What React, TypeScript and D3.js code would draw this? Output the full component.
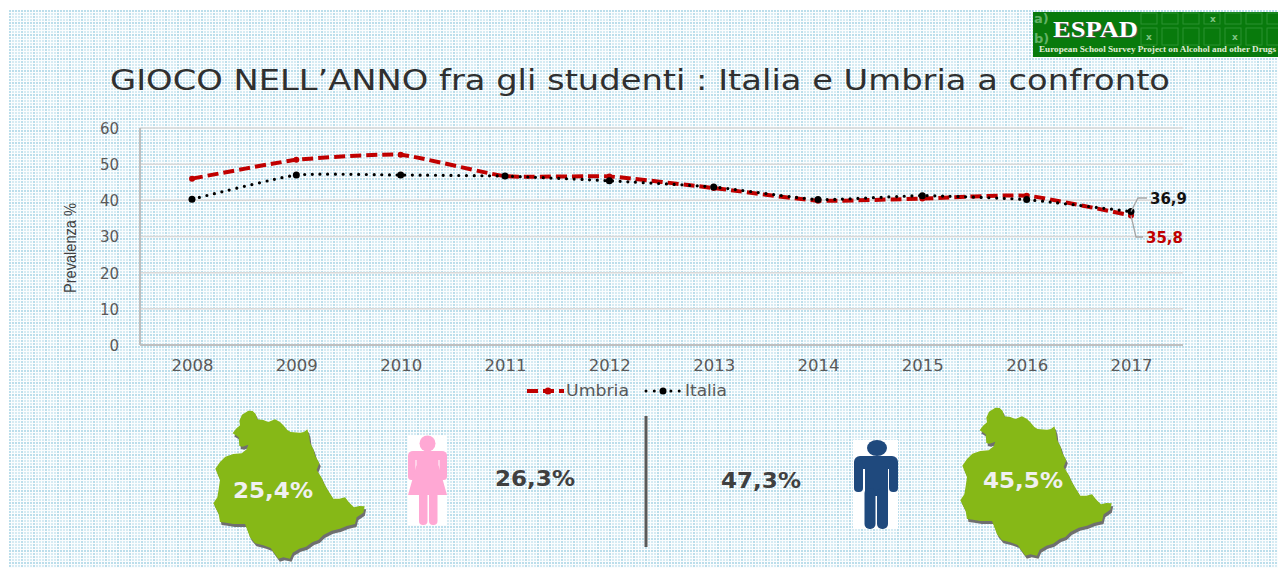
import React, { useEffect, useRef } from "react";
import * as d3 from "d3";

const years = ["2008", "2009", "2010", "2011", "2012", "2013", "2014", "2015", "2016", "2017"];
const umbria = [46, 51.2, 52.6, 46.7, 46.6, 43.4, 39.9, 40.5, 41.3, 35.8];
const italia = [40.3, 47, 47, 46.7, 45.4, 43.7, 40.2, 41.3, 40.2, 36.9];
const yTicks = [0, 10, 20, 30, 40, 50, 60];
const RED = "#c00000";
const regionOutline: [number, number][] = [
  [145,32],[158,33],[167,42],[172,58],[190,60],[205,66],[225,58],[240,66],[250,76],[262,90],[272,96],[300,98],[312,96],[322,88],[327,105],[330,128],[340,148],[346,168],[358,190],[350,210],[364,232],[372,250],[382,268],[400,296],[418,296],[435,292],[448,308],[462,322],[478,318],[494,319],[490,338],[470,352],[465,372],[440,378],[420,386],[395,392],[370,405],[355,420],[338,426],[318,440],[298,446],[278,458],[270,476],[250,472],[235,476],[222,458],[212,444],[190,436],[165,430],[150,412],[145,398],[135,372],[100,372],[78,368],[60,366],[56,342],[40,310],[52,292],[56,268],[60,240],[46,206],[60,186],[76,170],[100,162],[125,160],[140,148],[145,134],[128,140],[118,138],[116,112],[98,100],[108,86],[120,76],[118,62],[126,44]
];
const logoCols = d3.range(9);
const logoMarks: [number, number][] = [[1213, 22], [1149, 40], [1235, 40]];

function Woman({ x, y }: { x: number; y: number }) {
  const c = "#ffa8d4";
  return (
    <g transform={`translate(${x},${y})`} fill={c}>
      <rect width={39} height={90} fill="#fff" />
      <circle cx={19.5} cy={8.5} r={8} />
      <rect x={0} y={16} width={39} height={9} rx={5} />
      <rect x={0} y={18} width={7.5} height={27} rx={3.5} />
      <rect x={31.5} y={18} width={7.5} height={27} rx={3.5} />
      <path d="M8.5 18 H30.5 V30 L39 60 H0 L8.5 30 Z" />
      <rect x={11} y={56} width={8.5} height={34} rx={4} />
      <rect x={21} y={56} width={8.5} height={34} rx={4} />
    </g>
  );
}

function Man({ x, y }: { x: number; y: number }) {
  const c = "#1f497d";
  return (
    <g transform={`translate(${x},${y})`} fill={c}>
      <rect width={45} height={89} fill="#fff" />
      <ellipse cx={24} cy={8} rx={10} ry={8} />
      <rect x={1} y={16} width={44} height={13} rx={6} />
      <rect x={1} y={20} width={9} height={32} rx={4} />
      <rect x={36} y={20} width={9} height={32} rx={4} />
      <rect x={12} y={16} width={23} height={40} />
      <rect x={11.5} y={48} width={11} height={41} rx={5} />
      <rect x={24} y={48} width={11} height={41} rx={5} />
    </g>
  );
}

function Region({ dx, dy, label, labelX, labelY }: { dx: number; dy: number; label: string; labelX: number; labelY: number }) {
  const sx = d3.scaleLinear().domain([0, 780]).range([dx, dx + 260]);
  const sy = d3.scaleLinear().domain([0, 504]).range([dy, dy + 168]);
  const line = d3.line<[number, number]>().x((d) => sx(d[0])).y((d) => sy(d[1])).curve(d3.curveLinearClosed);
  const p = line(regionOutline) || "";
  return (
    <g>
      <path d={p} fill="#6f6f6f" transform="translate(1.5,3)" />
      <path d={p} fill="#86b817" />
      <text x={labelX} y={labelY} textAnchor="middle" fontFamily="DejaVu Sans" fontWeight="bold" fontSize={22} fill="#f0f0f0" textLength={80} lengthAdjust="spacingAndGlyphs">{label}</text>
    </g>
  );
}

export default function App() {
  const axisRef = useRef<SVGGElement>(null);
  const x = d3.scalePoint<string>().domain(years).range([192, 1131]);
  const y = d3.scaleLinear().domain([0, 60]).range([345, 128]);
  const line = d3.line<number>().x((_, i) => x(years[i]) as number).y((d) => y(d)).curve(d3.curveCardinal.tension(0.55));

  useEffect(() => {
    const g = d3.select(axisRef.current);
    g.selectAll("*").remove();
    const ax = d3.axisBottom(x).tickSize(0).tickPadding(0);
    const gx = g.append("g").attr("transform", "translate(0,371)").call(ax);
    gx.select(".domain").remove();
    gx.selectAll("text").attr("dy", 0).attr("y", 0).attr("fill", "#595959").attr("font-size", 15).attr("font-family", "DejaVu Sans").attr("textLength", 42).attr("lengthAdjust", "spacingAndGlyphs");
    const ay = d3.axisLeft(y).tickValues(yTicks).tickSize(0).tickPadding(0);
    const gy = g.append("g").attr("transform", "translate(119,0)").call(ay);
    gy.select(".domain").remove();
    gy.selectAll("text").attr("fill", "#595959").attr("font-size", 15).attr("font-family", "DejaVu Sans").attr("dy", "0.36em");
  }, []);

  const last = years[years.length - 1];
  const lx = x(last) as number;

  return (
    <svg width={1278} height={568} style={{ position: "absolute", left: 0, top: 0 }}>
      <defs>
        <pattern id="bg" x={9} y={10} width={12} height={12} patternUnits="userSpaceOnUse">
          <rect width={12} height={12} fill="#fbfdfe" />
          {d3.range(4).flatMap((i) => d3.range(4).map((j) => (
            <rect key={`${i}-${j}`} x={i * 3} y={j * 3} width={2} height={2} fill={i === 0 || j === 0 ? "#bcdeeb" : "#d6ebf3"} />
          )))}
        </pattern>
      </defs>
      <rect width={1278} height={568} fill="#fff" />
      <rect x={9} y={10} width={1269} height={558} fill="url(#bg)" />

      <rect x={1033} y={12} width={245} height={45} fill="#087a0c" />
      <g fill="none" stroke="#2b9130" strokeWidth={1}>
        {logoCols.map((i) => <rect key={`t${i}`} x={1141 + i * 21} y={13} width={16} height={11} />)}
        {logoCols.map((i) => <rect key={`b${i}`} x={1141 + i * 21} y={28} width={16} height={17} />)}
      </g>
      {logoMarks.map((m, i) => <text key={i} x={m[0]} y={m[1]} textAnchor="middle" fontFamily="DejaVu Sans" fontWeight="bold" fontSize={9} fill="#7fc483">x</text>)}
      <text x={1034} y={23} fontFamily="DejaVu Sans" fontWeight="bold" fontSize={13} fill="#62b266">a)</text>
      <text x={1034} y={43} fontFamily="DejaVu Sans" fontWeight="bold" fontSize={13} fill="#62b266">b)</text>
      <text x={1054} y={38} fontFamily="Liberation Serif" fontWeight="bold" fontSize={23} fill="#555" textLength={85} lengthAdjust="spacingAndGlyphs">ESPAD</text>
      <text x={1053} y={37} fontFamily="Liberation Serif" fontWeight="bold" fontSize={23} fill="#fff" textLength={85} lengthAdjust="spacingAndGlyphs">ESPAD</text>
      <text x={1039} y={52} fontFamily="Liberation Serif" fontWeight="bold" fontSize={9} fill="#e0eed8" textLength={237} lengthAdjust="spacingAndGlyphs">European School Survey Project on Alcohol and other Drugs</text>

      <text x={640} y={90} textAnchor="middle" fontFamily="DejaVu Sans" fontSize={29} fill="#303030" textLength={1060} lengthAdjust="spacingAndGlyphs">GIOCO NELL’ANNO fra gli studenti : Italia e Umbria a confronto</text>

      {yTicks.slice(1).map((t) => (
        <line key={t} x1={140} x2={1183} y1={y(t)} y2={y(t)} stroke="#d9d9d9" strokeWidth={1.5} />
      ))}
      <line x1={140} x2={140} y1={128} y2={345} stroke="#bfbfbf" strokeWidth={2} />
      <line x1={140} x2={1183} y1={345} y2={345} stroke="#bfbfbf" strokeWidth={2} />
      <g ref={axisRef} />
      <text transform="translate(76,248) rotate(-90)" textAnchor="middle" fontFamily="Liberation Sans" fontSize={16} fill="#404040" textLength={90} lengthAdjust="spacingAndGlyphs">Prevalenza %</text>

      <path d={line(umbria) || ""} fill="none" stroke={RED} strokeWidth={4} strokeDasharray="11 5" />
      {umbria.map((v, i) => <circle key={i} cx={x(years[i])} cy={y(v)} r={3} fill={RED} />)}
      <path d={line(italia) || ""} fill="none" stroke="#000" strokeWidth={3.2} strokeDasharray="0 7.7" strokeLinecap="round" />
      {italia.map((v, i) => <circle key={i} cx={x(years[i])} cy={y(v)} r={3.5} fill="#000" />)}

      <path d={`M${lx} ${y(36.9)} L1138 198 H1147`} fill="none" stroke="#a6a6a6" strokeWidth={1.3} />
      <path d={`M${lx} ${y(35.8)} L1136 237 H1143`} fill="none" stroke="#a6a6a6" strokeWidth={1.3} />
      <text x={1150} y={204} fontFamily="DejaVu Sans" fontWeight="bold" fontSize={15} fill="#111" textLength={37} lengthAdjust="spacingAndGlyphs">{d3.format(".1f")(italia[9]).replace(".", ",")}</text>
      <text x={1146} y={243} fontFamily="DejaVu Sans" fontWeight="bold" fontSize={15} fill={RED} textLength={37} lengthAdjust="spacingAndGlyphs">{d3.format(".1f")(umbria[9]).replace(".", ",")}</text>

      <line x1={527} x2={564} y1={391} y2={391} stroke={RED} strokeWidth={4} strokeDasharray="11 5 11 5 5" />
      <circle cx={548} cy={391} r={3.5} fill={RED} />
      <text x={566} y={396} fontFamily="DejaVu Sans" fontSize={15} fill="#595959" textLength={63} lengthAdjust="spacingAndGlyphs">Umbria</text>
      <line x1={646} x2={680} y1={391} y2={391} stroke="#000" strokeWidth={3} strokeDasharray="0 8.3" strokeLinecap="round" />
      <circle cx={663} cy={391} r={3.5} fill="#000" />
      <text x={685} y={396} fontFamily="DejaVu Sans" fontSize={15} fill="#595959" textLength={42} lengthAdjust="spacingAndGlyphs">Italia</text>

      <Region dx={200} dy={400} label="25,4%" labelX={273} labelY={498} />
      <Region dx={947} dy={397} label="45,5%" labelX={1023} labelY={488} />
      <Woman x={408} y={435} />
      <Man x={853} y={440} />
      <text x={535} y={486} textAnchor="middle" fontFamily="DejaVu Sans" fontWeight="bold" fontSize={22} fill="#404040" textLength={80} lengthAdjust="spacingAndGlyphs">26,3%</text>
      <text x={761} y={488} textAnchor="middle" fontFamily="DejaVu Sans" fontWeight="bold" fontSize={22} fill="#404040" textLength={80} lengthAdjust="spacingAndGlyphs">47,3%</text>
      <line x1={646} x2={646} y1={416} y2={547} stroke="#595959" strokeWidth={3} />
    </svg>
  );
}
